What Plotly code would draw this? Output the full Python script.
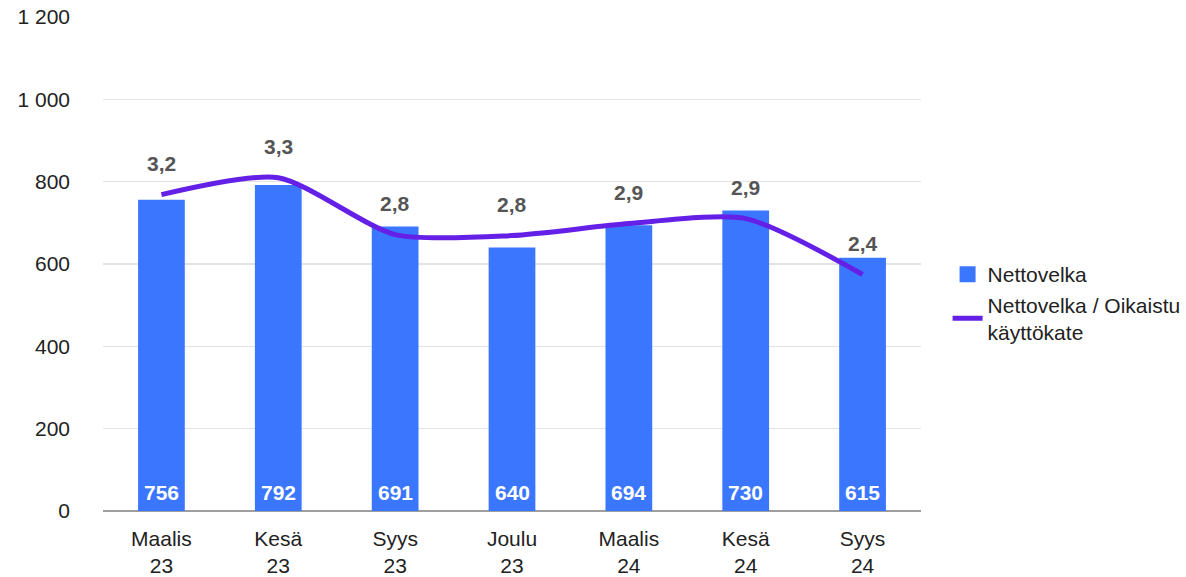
import plotly.graph_objects as go

categories = ["Maalis<br>23", "Kesä<br>23", "Syys<br>23", "Joulu<br>23", "Maalis<br>24", "Kesä<br>24", "Syys<br>24"]
nettovelka = [756, 792, 691, 640, 694, 730, 615]
ratio = [3.17, 3.34, 2.77, 2.76, 2.88, 2.93, 2.37]
y_ticks = [0, 200, 400, 600, 800, 1000, 1200]

BAR = "#3b76ff"
LINE = "#6420e6"
FONT = "Liberation Sans, Arial, sans-serif"
FS = 21

fig = go.Figure()
fig.add_trace(go.Bar(
    x=categories, y=nettovelka, name="Nettovelka",
    marker=dict(color=BAR, line=dict(width=0)),
    width=0.4, showlegend=False, hoverinfo="skip",
))
# legend proxy for the bar series (larger square swatch)
fig.add_trace(go.Scatter(
    x=[categories[0]], y=[None], name="Nettovelka", mode="markers",
    marker=dict(symbol="square", size=20, color=BAR), hoverinfo="skip",
))
fig.add_trace(go.Scatter(
    x=categories, y=ratio, name="Nettovelka / Oikaistu<br>käyttökate",
    yaxis="y2", mode="lines",
    line=dict(color=LINE, width=5, shape="spline", smoothing=0.7),
    hoverinfo="skip",
))

for c, v in zip(categories, nettovelka):
    fig.add_annotation(
        x=c, y=0, xref="x", yref="y", yshift=19, yanchor="middle",
        text=str(v), showarrow=False,
        font=dict(size=FS, color="white", family=FONT, weight="bold"),
    )

for c, r in zip(categories, ratio):
    fig.add_annotation(
        x=c, y=r, xref="x", yref="y2", yshift=31,
        text=f"{r:.1f}".replace(".", ","), showarrow=False,
        font=dict(size=FS, color="#555555", family=FONT, weight="bold"),
    )

fig.update_layout(
    width=1186, height=577,
    margin=dict(l=103, r=265, t=17, b=66, autoexpand=False),
    paper_bgcolor="white", plot_bgcolor="white",
    font=dict(family=FONT, size=FS, color="#222222"),
    separators=", ",
    showlegend=True,
    legend=dict(x=1.0325, y=0.52, xanchor="left", yanchor="top",
                font=dict(size=FS, color="#222222"), tracegroupgap=0,
                itemwidth=30),
    xaxis=dict(showgrid=False, showline=False, ticks="", ticklabelstandoff=13,
               automargin=False, tickfont=dict(size=FS, color="#222222")),
    yaxis=dict(range=[0, 1200], tickvals=y_ticks, tickformat=",d", showgrid=True,
               gridcolor="#e3e3e3", gridwidth=1.5,
               zeroline=True, zerolinecolor="#9e9e9e", zerolinewidth=2,
               showline=False, ticks="", ticklabelstandoff=32, automargin=False,
               tickfont=dict(size=FS, color="#222222")),
    yaxis2=dict(range=[0, 4.95], overlaying="y", side="right", visible=False,
                showgrid=False, zeroline=False, automargin=False),
)

fig.write_html("out.html",
               config={"displayModeBar": False, "staticPlot": True},
               post_script="document.body.style.margin='0';document.body.style.overflow='hidden';")
